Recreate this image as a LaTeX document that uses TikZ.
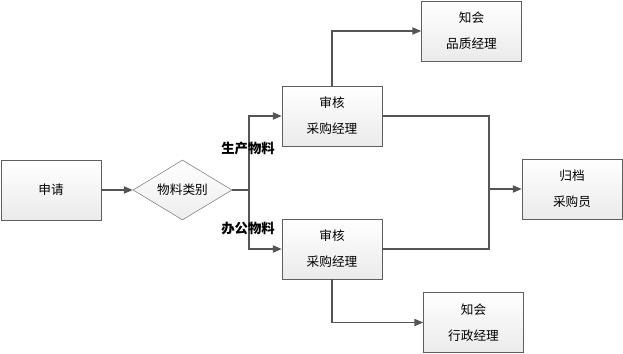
\documentclass[tikz,border=0pt]{standalone}
\usepackage{fontspec}
\setmainfont{Noto Sans CJK SC}
\usetikzlibrary{arrows.meta,shapes.geometric}
\definecolor{BoxLine}{RGB}{95,95,95}
\definecolor{FlowLine}{RGB}{85,85,85}

\begin{document}
\begin{tikzpicture}[x=0.25mm, y=-0.25mm,
	box/.style={draw=BoxLine, top color=white, bottom color=gray!16, minimum width=25mm, minimum height=15mm, inner sep=0pt, align=center, font=\fontsize{9}{18.5}\selectfont},
	choice/.style={diamond, aspect=1.65, draw=BoxLine!80, top color=white, bottom color=gray!14, minimum width=24.75mm, minimum height=15mm, inner sep=0pt, font=\fontsize{9}{10}\selectfont},
	link/.style={draw=FlowLine, line width=0.3mm},
	flow/.style={link, -{Triangle[length=2.2mm, width=1.8mm]}},
	tag/.style={font=\fontsize{9.5}{10}\selectfont\bfseries}
	]
	\useasboundingbox (0,0) rectangle (623,354);
	% 节点
	\node[box] (apply) at (51,190) {申请};
	\node[choice] (kind) at (182.5,190) {物料类别};
	\node[box] (auditA) at (332,116) {审核\\采购经理};
	\node[box] (auditB) at (332,249) {审核\\采购经理};
	\node[box] (notifyQ) at (471.5,31) {知会\\品质经理};
	\node[box] (notifyX) at (473.5,322.5) {知会\\行政经理};
	\node[box] (archive) at (572,189) {归档\\采购员};
	\coordinate (fork) at (249,190);
	\coordinate (join) at (489,189);
	% 连线
	\draw[flow] (apply) -- (kind);
	\draw[link] (kind.east) -- (fork);
	\draw[flow] (fork) |- (auditA);
	\draw[flow] (fork) |- (auditB);
	\draw[flow] (auditA.north) |- (notifyQ);
	\draw[flow] (auditB.south) |- (notifyX);
	\draw[link] (auditA.east) -| (join);
	\draw[link] (auditB.east) -| (join);
	\draw[flow] (join) -- (archive);
	% 分支标签
	\node[tag] (prod) at (248,148) {生产物料};
	\node[tag] (office) at (248,228) {办公物料};
\end{tikzpicture}
\end{document}
